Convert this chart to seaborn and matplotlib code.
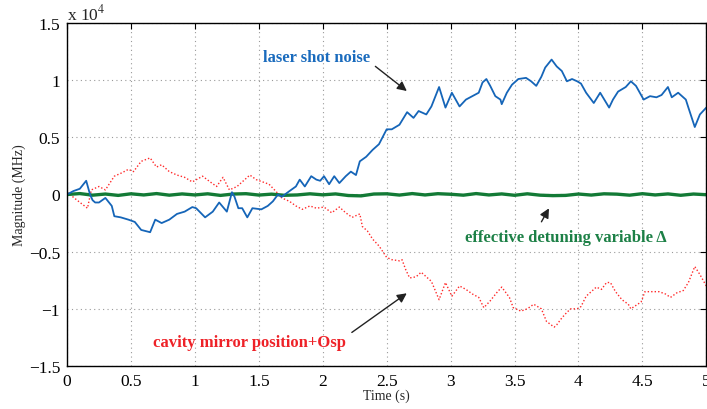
import numpy as np
import pandas as pd
import matplotlib
matplotlib.use("Agg")
import matplotlib.pyplot as plt
import seaborn as sns
from matplotlib.ticker import FuncFormatter, MultipleLocator

SCALE = 1e4  # values below are in units of 10^4 MHz

# laser shot noise (blue)
blue_t = [0, 0.05, 0.1, 0.15, 0.18, 0.2, 0.22, 0.25, 0.30, 0.35,
          0.37, 0.42, 0.48, 0.53, 0.58, 0.65, 0.69, 0.74, 0.80, 0.86,
          0.92, 0.98, 1.01, 1.08, 1.14, 1.19, 1.25, 1.29, 1.31, 1.34,
          1.37, 1.41, 1.45, 1.52, 1.57, 1.61, 1.65, 1.68, 1.74, 1.79,
          1.82, 1.86, 1.91, 1.95, 1.98, 2.01, 2.05, 2.09, 2.13, 2.18,
          2.22, 2.26, 2.29, 2.34, 2.39, 2.44, 2.50, 2.54, 2.60, 2.66,
          2.71, 2.75, 2.81, 2.85, 2.91, 2.96, 3.01, 3.07, 3.12, 3.17,
          3.22, 3.25, 3.28, 3.31, 3.35, 3.39, 3.40, 3.44, 3.48, 3.53,
          3.59, 3.63, 3.67, 3.71, 3.74, 3.79, 3.83, 3.87, 3.91, 3.95,
          3.99, 4.02, 4.06, 4.12, 4.17, 4.24, 4.27, 4.31, 4.37, 4.41,
          4.45, 4.51, 4.56, 4.61, 4.65, 4.70, 4.73, 4.78, 4.84, 4.86,
          4.91, 4.95, 5.0]
blue_v = [0, 0.03, 0.05, 0.12, 0.0, -0.05, -0.07, -0.07, -0.03, -0.10,
          -0.19, -0.20, -0.22, -0.24, -0.31, -0.33, -0.22, -0.25, -0.22, -0.17,
          -0.15, -0.11, -0.12, -0.20, -0.15, -0.07, -0.15, 0.02, -0.02, -0.12,
          -0.12, -0.20, -0.12, -0.13, -0.10, -0.06, 0.0, -0.02, 0.03, 0.07,
          0.13, 0.07, 0.16, 0.13, 0.12, 0.16, 0.09, 0.16, 0.10, 0.16,
          0.20, 0.17, 0.29, 0.33, 0.39, 0.44, 0.57, 0.57, 0.61, 0.72,
          0.67, 0.73, 0.70, 0.77, 0.94, 0.76, 0.89, 0.77, 0.83, 0.86,
          0.89, 0.98, 1.01, 0.95, 0.86, 0.83, 0.79, 0.89, 0.96, 1.01,
          1.02, 0.99, 0.95, 1.03, 1.11, 1.18, 1.12, 1.08, 0.99, 1.01,
          0.99, 0.97, 0.89, 0.80, 0.89, 0.76, 0.83, 0.90, 0.94, 0.99,
          0.95, 0.83, 0.86, 0.85, 0.87, 0.94, 0.85, 0.89, 0.83, 0.76,
          0.59, 0.70, 0.76]

# cavity mirror position + Osp (red)
red_t = [0, 0.09, 0.16, 0.19, 0.25, 0.30, 0.37, 0.43, 0.48, 0.52,
         0.58, 0.65, 0.70, 0.74, 0.80, 0.86, 0.92, 0.98, 1.06, 1.12,
         1.17, 1.22, 1.27, 1.33, 1.37, 1.43, 1.48, 1.53, 1.58, 1.64,
         1.68, 1.74, 1.79, 1.84, 1.90, 1.95, 2.01, 2.07, 2.13, 2.18,
         2.23, 2.29, 2.31, 2.35, 2.39, 2.44, 2.50, 2.54, 2.60, 2.62,
         2.65, 2.68, 2.73, 2.77, 2.82, 2.85, 2.91, 2.96, 3.01, 3.07,
         3.12, 3.17, 3.22, 3.26, 3.31, 3.36, 3.40, 3.46, 3.49, 3.55,
         3.60, 3.65, 3.71, 3.75, 3.81, 3.83, 3.87, 3.91, 3.94, 3.99,
         4.02, 4.06, 4.10, 4.14, 4.18, 4.22, 4.25, 4.29, 4.34, 4.39,
         4.41, 4.45, 4.49, 4.52, 4.57, 4.63, 4.68, 4.72, 4.77, 4.82,
         4.86, 4.91, 4.95, 5.0]
red_v = [0.02, -0.06, -0.12, 0.04, 0.07, 0.04, 0.16, 0.19, 0.22, 0.20,
         0.29, 0.32, 0.24, 0.26, 0.20, 0.17, 0.15, 0.11, 0.16, 0.11,
         0.07, 0.15, 0.04, 0.07, 0.11, 0.17, 0.13, 0.11, 0.09, 0.02,
         -0.03, -0.06, -0.10, -0.13, -0.10, -0.12, -0.11, -0.16, -0.11, -0.16,
         -0.20, -0.17, -0.28, -0.32, -0.39, -0.45, -0.55, -0.57, -0.58, -0.57,
         -0.66, -0.73, -0.72, -0.68, -0.73, -0.76, -0.92, -0.77, -0.89, -0.80,
         -0.83, -0.87, -0.90, -0.99, -0.93, -0.86, -0.81, -0.90, -0.99, -1.02,
         -1.00, -0.96, -1.00, -1.11, -1.16, -1.14, -1.08, -1.03, -1.00, -1.00,
         -0.98, -0.89, -0.85, -0.81, -0.83, -0.77, -0.77, -0.85, -0.92, -0.96,
         -1.00, -0.97, -0.94, -0.85, -0.85, -0.85, -0.87, -0.90, -0.86, -0.84,
         -0.77, -0.63, -0.70, -0.80]

# effective detuning variable (green), close to zero
green_t = [i / 10 for i in range(51)]
green_v = [0.0, 0.008, -0.006, 0.004, -0.008, 0.006, -0.004, 0.008, -0.006, 0.005,
           -0.004, 0.006, -0.008, 0.004, 0.007, -0.005, 0.003, -0.007, -0.004, 0.006,
           -0.003, 0.005, -0.009, -0.012, 0.004, 0.006, -0.005, 0.008, -0.004, 0.007,
           0.002, -0.006, 0.008, -0.004, 0.005, -0.007, 0.006, -0.006, -0.010, -0.008,
           0.004, -0.005, 0.006, 0.003, -0.006, 0.007, -0.004, 0.005, -0.007, 0.004, -0.002]

x_ticks = [0, 0.5, 1, 1.5, 2, 2.5, 3, 3.5, 4, 4.5, 5]
y_ticks = [-1.5, -1, -0.5, 0, 0.5, 1, 1.5]

df = pd.concat([
    pd.DataFrame({"t": blue_t, "v": np.array(blue_v) * SCALE, "s": "blue"}),
    pd.DataFrame({"t": red_t, "v": np.array(red_v) * SCALE, "s": "red"}),
    pd.DataFrame({"t": green_t, "v": np.array(green_v) * SCALE, "s": "green"}),
])

sns.set_style("white")
plt.rcParams["font.family"] = ["Liberation Serif", "DejaVu Serif"]
plt.rcParams["mathtext.fontset"] = "stix"

fig = plt.figure(figsize=(7.07, 4.10), dpi=100)
ax = fig.add_axes([0.0948, 0.1049, 0.9052 - 0.001, 0.8366])

c_blue = "#1565b8"
c_red = "#ff2a2a"
c_green = "#137a36"

sns.lineplot(data=df[df.s == "red"], x="t", y="v", ax=ax, color=c_red,
             lw=1.0, linestyle=(0, (1, 1.5)), sort=False, estimator=None)
sns.lineplot(data=df[df.s == "green"], x="t", y="v", ax=ax, color=c_green,
             lw=2.4, sort=False, estimator=None)
sns.lineplot(data=df[df.s == "blue"], x="t", y="v", ax=ax, color=c_blue,
             lw=1.3, sort=False, estimator=None)

ax.set_xlim(0, 5)
ax.set_ylim(-1.5 * SCALE, 1.5 * SCALE)
ax.set_xticks(x_ticks)
ax.set_yticks([v * SCALE for v in y_ticks])
ax.xaxis.set_major_formatter(FuncFormatter(lambda v, p: f"{v:g}"))
ax.yaxis.set_major_formatter(
    FuncFormatter(lambda v, p: f"{v / SCALE:g}".replace("-", "\u2212")))
ax.grid(True, color="#9a9a9a", linestyle=(0, (1, 3)), linewidth=0.8)
ax.tick_params(direction="in", length=4, width=0.8, labelsize=12.5,
               top=True, right=True, colors="black", pad=5)
for sp in ax.spines.values():
    sp.set_visible(True)
    sp.set_color("black")
    sp.set_linewidth(1.0)

ax.set_xlabel("Time (s)", fontsize=10, labelpad=0)
ax.set_ylabel("Magnitude (MHz)", fontsize=10, labelpad=2)
fig.text(0.0948, 0.965, r"x 10$^{4}$", fontsize=12.5, ha="left", va="center")

arrow = dict(arrowstyle="-|>", color="#222222", lw=1.0, mutation_scale=14)
ax.annotate("laser shot noise", xy=(2.675, 0.89 * SCALE), xytext=(1.95, 1.20 * SCALE),
            color="#1a6bbd", fontsize=12, fontweight="bold", ha="center", va="center",
            arrowprops=dict(arrow, relpos=(1.0, 0.2)))
ax.annotate("effective detuning variable \u0394", xy=(3.78, -0.10 * SCALE),
            xytext=(3.9, -0.37 * SCALE), color="#1c8046", fontsize=12,
            fontweight="bold", ha="center", va="center")
ax.annotate("", xy=(3.78, -0.10 * SCALE), xytext=(3.70, -0.26 * SCALE),
            arrowprops=arrow)
ax.annotate("cavity mirror position+Osp", xy=(2.675, -0.85 * SCALE),
            xytext=(1.43, -1.29 * SCALE), color="#ee2228", fontsize=12,
            fontweight="bold", ha="center", va="center",
            arrowprops=dict(arrow, relpos=(1.0, 0.85)))

fig.savefig("out.png", dpi=100)
